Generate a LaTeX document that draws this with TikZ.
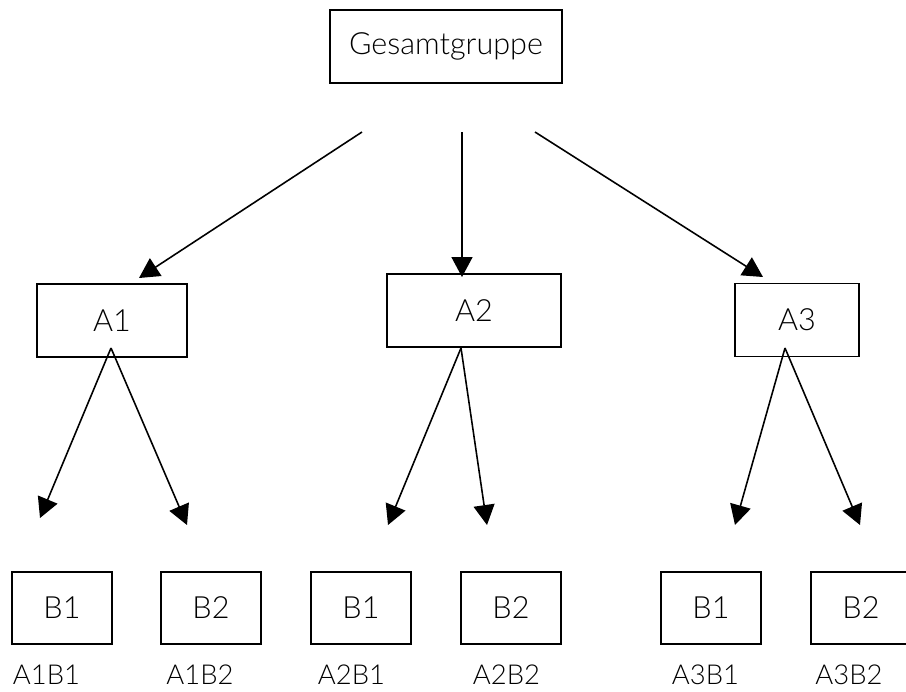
\documentclass[tikz,border=0pt]{standalone}
\usepackage{fontspec}
\setmainfont{Lato Light}
\usetikzlibrary{arrows.meta}

\begin{document}
\begin{tikzpicture}
    [
    x                   = 0.02cm,
    y                   = -0.02cm,
    every node/.style   = {font=\fontsize{17.4}{20}\selectfont},
    group/.style        = {draw, line width=1.1pt, minimum height=1.46cm, inner sep=0pt},
    cell/.style         = {draw, line width=1.1pt, minimum width=2cm, minimum height=1.44cm, inner sep=0pt},
    tag/.style          = {font=\fontsize{15.6}{18}\selectfont, inner sep=0pt},
    link/.style         = {-{Triangle[length=0.4cm, width=0.42cm]}, line width=0.9pt}
    ]
    \clip (0,0) rectangle (906,691);

    % top level
    \node [group, minimum width=4.64cm] (total) at (446,46.5) {Gesamtgruppe};

    % factor A
    \node [group, minimum width=3cm]    (a1) at (112,320.5) {A1};
    \node [group, minimum width=3.48cm] (a2) at (474,310.5) {A2};
    \node [group, minimum width=2.48cm] (a3) at (797,320)   {A3};

    % factor B
    \node [cell] (a1b1) at (62,608)  {B1};
    \node [cell] (a1b2) at (211,608) {B2};
    \node [cell] (a2b1) at (361,608) {B1};
    \node [cell] (a2b2) at (511,608) {B2};
    \node [cell] (a3b1) at (711,608) {B1};
    \node [cell] (a3b2) at (861,608) {B2};

    \node [tag] (t11) at (46.5,675)  {A1B1};
    \node [tag] (t12) at (200,675)   {A1B2};
    \node [tag] (t21) at (351.5,675) {A2B1};
    \node [tag] (t22) at (506.5,675) {A2B2};
    \node [tag] (t31) at (705.5,675) {A3B1};
    \node [tag] (t32) at (849,675)   {A3B2};

    % arrow ends
    \coordinate (s1) at (362,132);
    \coordinate (s2) at (462,132);
    \coordinate (s3) at (535,132);
    \coordinate (e1) at (139,278);
    \coordinate (e2) at (462,277);
    \coordinate (e3) at (763,277);

    \coordinate (f1) at (111,348);
    \coordinate (f2) at (461,348);
    \coordinate (f3) at (785,348);
    \coordinate (g11) at (40,518);
    \coordinate (g12) at (187,525);
    \coordinate (g21) at (388,525);
    \coordinate (g22) at (487,525);
    \coordinate (g31) at (735,525);
    \coordinate (g32) at (860,525);

    \draw [link] (s1) -- (e1);
    \draw [link] (s2) -- (e2);
    \draw [link] (s3) -- (e3);

    \draw [link] (f1) -- (g11);
    \draw [link] (f1) -- (g12);
    \draw [link] (f2) -- (g21);
    \draw [link] (f2) -- (g22);
    \draw [link] (f3) -- (g31);
    \draw [link] (f3) -- (g32);
\end{tikzpicture}
\end{document}
